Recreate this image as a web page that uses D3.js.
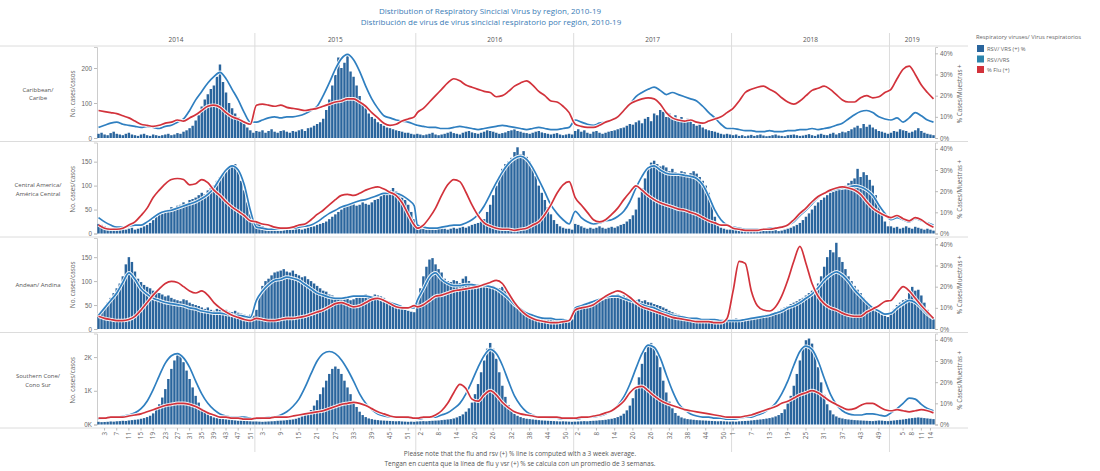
<!DOCTYPE html>
<html>
<head>
<meta charset="utf-8">
<script src="https://cdn.jsdelivr.net/npm/d3@7"></script>
<style>
  body { margin: 0; background: #fff; }
  svg { display: block; font-family: "Open Sans", Lato, "DejaVu Sans", sans-serif; }
</style>
</head>
<body>
<svg id="chart" width="1100" height="471"></svg>
<script>
// ---- time axis -------------------------------------------------------
const years = [2014, 2015, 2016, 2017, 2018, 2019];
const weeksInYear = [52, 53, 52, 52, 52, 15];
const xTickWeeks = [
  [3, 7, 11, 15, 19, 23, 27, 31, 35, 39, 43, 47, 51],
  [3, 9, 15, 21, 27, 33, 39, 45, 51],
  [2, 8, 14, 20, 26, 32, 38, 44, 50],
  [2, 8, 14, 20, 26, 32, 38, 44, 50],
  [1, 7, 13, 19, 25, 31, 37, 43, 49],
  [5, 8, 11, 14]
];

// ---- weekly RSV cases (bars) -------------------------------------------
const caribeCases = [
  12,15,10,8,14,18,12,10,8,12, 15,10,8,6,10,12,8,6,10,8, 6,8,10,12,8,10,14,12,18,22, 28,35,50,65,90,110,125,140,150,175, 210,160,130,100,85,70,60,50,40,30, 22,15,
  20,18,22,15,20,25,18,15,20,22, 18,15,20,18,22,25,20,28,30,35, 40,45,55,80,110,150,180,230,200,215, 235,190,175,150,120,100,85,70,60,55, 45,40,35,30,28,25,22,20,18,15, 15,12,10,
  12,10,8,10,12,15,10,8,10,12, 15,18,14,12,10,15,18,20,16,14, 12,15,18,22,20,18,15,12,14,16, 20,22,25,20,18,15,14,12,15,18, 20,16,14,12,10,12,14,10,8,10, 12,10,
  20,25,18,22,15,12,18,20,15,12, 15,18,20,22,25,28,30,35,40,38, 45,50,42,55,60,48,70,65,80,75, 60,70,55,65,50,60,45,55,48,40, 35,38,30,25,22,20,18,15,12,10, 12,10,
  8,10,6,8,5,7,9,6,8,10, 7,5,6,8,10,7,6,5,8,9, 10,8,6,7,9,11,8,6,10,12, 9,8,12,15,10,14,18,16,20,25, 30,35,28,40,32,38,30,25,20,18, 15,12,
  15,20,18,25,22,20,15,18,22,28,20,15,12,10,8
];
const centralCases = [
  20,18,15,12,10,12,10,8,10,8, 10,12,8,10,12,15,18,22,28,35, 40,42,48,50,55,52,58,60,65,62, 70,72,75,80,85,82,90,95,100,110, 118,125,130,138,142,145,130,110,90,65, 40,25,
  25,20,15,12,10,12,10,8,10,12, 10,8,10,12,10,8,10,12,14,15, 18,20,22,25,30,35,40,45,50,55, 58,60,62,58,60,65,62,60,65,70, 72,78,85,80,90,95,88,80,75,70, 60,45,30,
  15,12,10,8,10,12,8,10,12,10, 8,10,12,10,12,14,12,15,18,20, 22,25,30,45,60,80,100,120,135,145, 150,158,170,180,165,172,160,150,135,120, 100,85,70,55,40,28,20,15,12,10, 10,8,
  20,18,15,12,10,12,10,12,15,12, 10,12,14,12,15,18,20,25,30,38, 50,75,95,115,135,148,152,145,140,142, 138,130,135,128,125,130,128,122,126,130, 125,118,110,100,85,60,35,20,12,10, 8,8,
  10,8,6,5,6,8,5,6,7,5, 6,5,8,6,7,5,6,8,10,12, 15,18,22,28,35,42,50,58,65,70, 75,80,85,88,92,95,98,100,105,110, 115,135,118,128,122,112,100,80,60,40, 25,15,
  15,12,14,10,12,15,12,10,14,12,10,8,10,8,6
];
const andeanCases = [
  25,35,45,55,65,75,85,95,110,135, 150,140,120,105,98,92,88,85,80,78, 75,72,68,70,65,62,60,58,62,60, 55,52,50,48,45,42,45,40,38,42, 40,38,40,36,35,38,34,32,30,28, 30,28,
  40,70,90,100,105,112,118,120,122,125, 120,118,122,115,112,108,110,104,100,95, 90,85,80,78,72,70,65,62,60,62, 64,60,62,66,68,70,72,70,68,72, 70,68,65,60,55,50,48,45,42,40, 38,36,35,
  60,85,110,130,145,148,135,125,118,105, 100,98,102,100,96,105,110,100,95,92, 94,90,96,92,88,90,86,85,88,80, 72,65,55,48,42,38,35,32,30,28, 26,25,24,22,23,22,20,22,21,20, 18,20,
  45,48,50,52,55,58,56,60,62,60, 64,66,65,70,72,68,70,66,64,62, 60,62,58,60,56,55,52,50,48,45, 42,38,35,32,30,28,26,25,24,22, 22,20,21,20,19,20,18,19,18,17, 18,16,
  20,22,18,20,22,20,24,22,25,26, 28,30,28,32,35,38,42,45,48,52, 55,58,62,65,70,75,80,85,95,110, 130,150,165,160,180,150,140,125,110,100, 90,82,75,65,58,50,45,40,35,30, 28,25,
  35,42,50,55,60,62,75,88,80,82,70,55,40,30,20
];
const southernCases = [
  80,70,75,80,90,85,95,100,110,105, 120,130,140,150,170,190,220,260,330,450, 600,800,1050,1350,1650,1900,2100,2050,1850,1600, 1350,1100,850,650,480,380,300,250,210,190, 170,160,150,140,130,120,110,115,105,100, 95,90,
  90,85,80,85,90,95,100,110,115,120, 130,140,150,170,200,240,290,350,430,560, 720,900,1100,1300,1500,1650,1720,1650,1500,1300, 1100,900,700,520,380,280,220,180,160,140, 130,120,115,110,105,100,95,100,90,85, 80,85,80,
  90,95,100,95,105,110,115,120,130,140, 150,160,180,210,250,300,380,480,650,900, 1200,1550,1900,2250,2420,2250,1950,1550,1150,820, 580,420,320,260,220,190,170,160,150,140, 130,120,115,110,105,100,95,90,95,90, 85,80,
  85,90,95,100,95,105,110,115,125,130, 140,155,170,190,220,260,320,420,560,780, 1050,1400,1800,2150,2380,2420,2300,2050,1700,1300, 950,680,480,340,260,210,180,160,150,140, 130,125,120,115,110,105,100,95,100,95, 90,85,
  90,85,95,100,105,110,120,130,140,150, 160,175,190,210,240,280,340,450,620,850, 1150,1500,1900,2250,2500,2550,2400,2100,1700,1250, 880,600,420,300,240,200,180,160,150,140, 130,125,120,115,110,105,100,110,120,115, 105,100,
  110,120,130,140,150,165,180,190,200,210,200,190,180,170,160
];

// ---- 3-week averaged positivity (%), one value every other week (wk 1,3,5...) ----
const caribeRsvPct = [
  5,6,7,7.5,6.5,6,5.5,5,5.5,5,4.5,5.5,6,7.5,9,13,18,22,26,29,31,28,23,18,12,7.5,
  7.5,8.5,9.5,10,9.5,10,10,10.5,11.5,13,15,20,26,32.5,37.5,39.5,37,31.5,24.5,18.5,14,10.5,9.5,8.5,8,7.5,6.5,
  6,5.5,5,5,4.5,4.5,5,5.5,5,4.5,4,4.5,5,5.5,6,5.5,5,4.5,4,4.5,5,4.5,4,4,4.5,5,
  8.5,7.5,6.5,6,7,7.5,8.5,10,13,16,19.5,21.5,23,24,22.5,20.5,21.5,20.5,19.5,18.5,17.5,15,12,9.5,6.5,4.5,
  4.5,4,3.5,3.5,3,3,3.5,3,3,3.5,3.5,4,4,4.5,4,4.5,5,6,7,9,11,12.5,13,12,10,9,
  8.5,9.5,7.5,9.5,12,10.5,8.5,7.5
];
const caribeFluPct = [
  13,12.5,12,11.5,10.5,9.5,8,6.5,6,5.5,6,7,7.5,8.5,8,9.5,11,13,15,15.5,14.5,12,10,9,7.5,6.5,
  15.5,16,15.5,15,15.5,14.5,14,13.5,13,13.5,14,15,16,17,17.5,18.5,18.5,17,15,12,9.5,7,6,6.5,8,9,10,
  12,14,17,20,23,26,28,27,25,24,23,22,21.5,19.5,20,22,24.5,26,27,25,22,20,17.5,17,15,12,
  6.5,5.5,5,5,6,7.5,8.5,10,13,16,17.5,18.5,19,18.5,16,12,9.5,8.5,8,8.5,7.5,7,8,9,10,12,
  14,17.5,21.5,23,24,24.5,23,21.5,19,17,16,17.5,20,22.5,23.5,24.5,23,20.5,18,17,17,19,20,19,19.5,21.5,
  23,28,32.5,34,30,25,21.5,18.5
];
const centralRsvPct = [
  7.5,5.5,4,3,3,3.5,4,4,5.5,7.5,9.5,10.5,11,12,13,14,15,16.5,18.5,21.5,26,30,32,30,23,11,
  3,2.5,2,2,2,2.5,2.5,3,3.5,4,5.5,7.5,9.5,11,12.5,13.5,14.5,15.5,16,17,18,19,19,19,18,16,13,
  4,3,2.5,2.5,3,3.5,4,4,5,6.5,9,13,18.5,24,29,33,35.5,36.5,35,31,25.5,19.5,13.5,9.5,6.5,4.5,
  10.5,7.5,5.5,4.5,5,6,6.5,8,10.5,15,21.5,27,31,32,30,28.5,28,28,27.5,27,26,23,17.5,11,6.5,4,
  3,2.5,2,2,2,2,2.5,2.5,3,4,5.5,8.5,11,14,17,19,20,21,21.5,22,22.5,22,20.5,18,13.5,9.5,
  6.5,7.5,6.5,5.5,7,6,5,4
];
const centralFluPct = [
  4,2.5,2,2,2.5,4,5.5,8.5,12,17,20.5,23.5,25.5,26,25.5,23,23.5,25.5,24,20.5,18,15,12.5,10.5,8.5,6,
  5.5,4.5,4,3,2.5,2.5,3,4,4.5,6.5,9,11,13.5,16,18,18.5,18,19,20.5,21.5,22,21,19.5,18,14.5,9,4,
  2.5,4,7.5,12,18,23,25.5,24.5,19.5,13.5,8.5,5,3.5,2.5,2,2,1.5,2,2.5,4,5.5,9,13.5,19,23,24.5,
  17,13.5,10,6.5,5.5,6.5,9,12,16,19.5,22.5,20.5,18,16,14.5,13.5,12.5,11.5,11,10,9,7.5,6,5,4,4,
  2.5,2,1.5,1.5,1.5,2,2,2.5,3,4,6.5,9.5,12,15,17.5,19,20.5,21.5,22,21.5,20.5,18.5,15,12,10,8.5,
  7.5,8.5,7,6,7.5,6.5,4.5,3
];
const andeanRsvPct = [
  6.5,10,13.5,17,22,26.5,23.5,19,16.5,14.5,13.5,12.5,12,11.5,11,10,9.5,8.5,8,7.5,7.5,7,6.5,6.5,6,5.5,
  13.5,18,21,23,23.5,24.5,24,23,21,19,17,16,15,14.5,14.5,15,15.5,15.5,15.5,15,14.5,13.5,12.5,11.5,10.5,10,10,
  13.5,19,24.5,26.5,23.5,21.5,20.5,20.5,21,21,20.5,20.5,20,19,17,14.5,11.5,9.5,7.5,6.5,5.5,5,5,4.5,4.5,4,
  10,11,12,13,14,15,15.5,15.5,14.5,13.5,12.5,11.5,10.5,10,8.5,7.5,6.5,6,5.5,5,5,4.5,4.5,4.5,4,4,
  4,4,4.5,5,5.5,6,6.5,7.5,8.5,10,11,12.5,14.5,16.5,19.5,23,25.5,27,25.5,22.5,18.5,15.5,12.5,10,8.5,7,
  7.5,10,12,13.5,12.5,10,7,5
];
const andeanFluPct = [
  6,5,4.5,4,4,4.5,6,9,12.5,16,19,21.5,22.5,22,20,18,17,18,16,12.5,10,8,6.5,5.5,4.5,4,
  5,4.5,4,4,4.5,5,5,5.5,6,7,8,9,10.5,12,12.5,11.5,10.5,11,12.5,14,14.5,13.5,12,10.5,10,10,11,
  10.5,11.5,13.5,15.5,16,17,18,18.5,19,19.5,20,21,22,23,21.5,17,12.5,9,6.5,5,4,3.5,3,3,3.5,4,
  9,10,10.5,11.5,13.5,15.5,17,18,17,15,12.5,10.5,9.5,8.5,7.5,6.5,5.5,5,4.5,4,3.5,3.5,3.5,3,3,5,
  18,32,31,18,11,9,8.5,10.5,15.5,23,32,39,31,21.5,15.5,12,10,9,7.5,6.5,6,6,8,9.5,11,13,
  13.5,17,20,18,14.5,11,8,5
];
const southernRsvPct = [
  2.5,3,3.5,3.5,4,4.5,5.5,7.5,11,16.5,23,29,32.5,33.5,31.5,27,20.5,14.5,10,7,5,4,3.5,3.5,3.5,3,
  2.5,3,3.5,3.5,4.5,6,8.5,12,17.5,24,30,33.5,34.5,33.5,30.5,26,20.5,14.5,10,7,5,4,3.5,3.5,3.5,3,3,
  2.5,3,3.5,3.5,4.5,5.5,7.5,10,14.5,20.5,27,32.5,35.5,33.5,28,20.5,13.5,9,6,4.5,3.5,3.5,3,3,2.5,2.5,
  2.5,3,3.5,3.5,4,5,6.5,9,13,19,26.5,33.5,37.5,36.5,31.5,23.5,16,10,7,5,4,3.5,3.5,3,3,2.5,
  2.5,3,3.5,3.5,4.5,5.5,7.5,10,14.5,20.5,28,34.5,37,35.5,30,22,14.5,9.5,6.5,5,4.5,4.5,5,5,4.5,4,
  5.5,7.5,10,12.5,12,9.5,7.5,6.5
];
const southernFluPct = [
  3,3,3.5,3.5,3.5,4,4.5,5,6,7,8,9,9.5,10,10,9.5,8.5,7,5.5,4.5,3.5,3.5,3,3,2.5,2.5,
  3,3,3,3.5,3.5,3.5,4,4.5,5,5.5,6,6.5,7.5,8.5,9.5,10,10.5,10,9,7.5,6,5,4,3.5,3.5,3.5,3,
  3,3.5,3.5,4.5,6.5,10,15,19,17,12,11,14,16,14,10.5,8,6,5,4.5,4,3.5,3.5,3.5,3.5,3,3,
  3,3.5,3.5,4,4.5,5.5,6.5,8.5,11,15,17.5,18,16,13.5,11.5,10,9,8,7,6.5,6,5.5,5,4.5,4,3.5,
  3.5,3.5,4,4.5,5.5,6.5,7.5,8.5,10,11,12.5,14,15,16,15,13,11,9.5,8,7,7.5,9,10,10,8.5,7,
  6.5,7,6.5,6,6.5,7,6.5,5.5
];

// ---- panel labels and axes ---------------------------------------------
const regionLabels = [["Caribbean/", "Caribe"], ["Central America/", "América Central"], ["Andean/ Andina"], ["Southern Cone/", "Cono Sur"]];
const caseMax = [260, 190, 190, 2700];
const caseTicks = [[0, 100, 200], [0, 50, 100, 150], [0, 50, 100, 150], [0, 1000, 2000]];
const pctTicks = [0, 10, 20, 30, 40];
const legendLabels = ["RSV/ VRS (+) %", "RSV/VRS", "% Flu (+)"];

const regions = [
  { label: regionLabels[0], cases: caribeCases, rsv: caribeRsvPct, flu: caribeFluPct },
  { label: regionLabels[1], cases: centralCases, rsv: centralRsvPct, flu: centralFluPct },
  { label: regionLabels[2], cases: andeanCases, rsv: andeanRsvPct, flu: andeanFluPct },
  { label: regionLabels[3], cases: southernCases, rsv: southernRsvPct, flu: southernFluPct }
];

// ---- layout ---------------------------------------------------------------
const plotL = 97, plotR = 935;
const panelTop = 46, panelH = 95.5;
const C_BAR = "#2a659d", C_RSV = "#2f7fc0", C_FLU = "#d2323b";
const C_TXT = "#666", C_GRID = "#dcdcdc";

const svg = d3.select("#chart");

const weekKeys = [];
const lineKeys = [];
years.forEach((y, i) => {
  for (let w = 1; w <= weeksInYear[i]; w++) weekKeys.push(y + "-" + w);
  for (let w = 1; w <= weeksInYear[i]; w += 2) lineKeys.push(y + "-" + w);
});

const x = d3.scaleBand().domain(weekKeys).range([plotL, plotR]).paddingInner(0.2).paddingOuter(0.1);
const cx = k => x(k) + x.bandwidth() / 2;
const gap = (x.step() - x.bandwidth()) / 2;
const yearStart = years.map(y => x(y + "-1") - gap);
const yearBounds = yearStart.concat([plotR]);

// title
svg.append("text").attr("x", 490).attr("y", 14).attr("text-anchor", "middle")
  .attr("font-size", 8).attr("fill", "#3b7cb6")
  .text("Distribution of Respiratory Sincicial Virus by region, 2010-19");
svg.append("text").attr("x", 491).attr("y", 25).attr("text-anchor", "middle")
  .attr("font-size", 8).attr("fill", "#3b7cb6")
  .text("Distribución de virus de virus sincicial respiratorio por región, 2010-19");

// year separators
svg.append("g").selectAll("line").data(yearBounds.slice(1, -1)).join("line")
  .attr("x1", d => d).attr("x2", d => d).attr("y1", 33).attr("y2", 452)
  .attr("stroke", C_GRID).attr("stroke-width", 1);

// year headers
svg.append("g").selectAll("text").data(years).join("text")
  .attr("x", (d, i) => (yearBounds[i] + yearBounds[i + 1]) / 2)
  .attr("y", 42).attr("text-anchor", "middle")
  .attr("font-size", 6.5).attr("fill", "#555").text(d => d);

// panel separators
svg.append("g").selectAll("line").data(d3.range(5)).join("line")
  .attr("x1", 0).attr("x2", 968)
  .attr("y1", i => panelTop + i * panelH).attr("y2", i => panelTop + i * panelH)
  .attr("stroke", C_GRID).attr("stroke-width", 1);

regions.forEach((r, ri) => {
  const top = panelTop + ri * panelH;
  const zero = top + 92;
  const yC = d3.scaleLinear().domain([0, caseMax[ri]]).range([zero, top + 1]);
  const yP = d3.scaleLinear().domain([0, 43]).range([zero, top + 1]);
  const g = svg.append("g");

  // region name
  const mid = top + panelH / 2 + 2;
  const lines = r.label;
  g.append("text").attr("text-anchor", "middle")
    .attr("font-size", 6).attr("fill", "#555")
    .selectAll("tspan").data(lines).join("tspan")
    .attr("x", 38)
    .attr("y", (d, i) => mid + (i - (lines.length - 1) / 2) * 8.5)
    .text(d => d);

  // left axis
  const fmtC = ri === 3 ? (v => (v / 1000) + "K") : (v => v);
  const axL = d3.axisLeft(yC).tickValues(caseTicks[ri]).tickSize(3).tickPadding(2).tickFormat(fmtC);
  const gl = g.append("g").attr("transform", `translate(${plotL},0)`).call(axL);
  gl.select(".domain").attr("stroke", "#ccc");
  gl.selectAll(".tick line").attr("stroke", "#bbb");
  gl.selectAll(".tick text").attr("fill", C_TXT).attr("font-size", 6.3).attr("font-family", null);
  g.append("text").attr("transform", `translate(75,${top + panelH / 2}) rotate(-90)`)
    .attr("text-anchor", "middle").attr("font-size", 6.3).attr("fill", C_TXT)
    .text("No. cases/casos");

  // right axis
  const axR = d3.axisRight(yP).tickValues(pctTicks).tickSize(3).tickPadding(2).tickFormat(v => v + "%");
  const gr = g.append("g").attr("transform", `translate(${plotR},0)`).call(axR);
  gr.select(".domain").attr("stroke", "#ccc");
  gr.selectAll(".tick line").attr("stroke", "#bbb");
  gr.selectAll(".tick text").attr("fill", C_TXT).attr("font-size", 6.3).attr("font-family", null);
  g.append("text").attr("transform", `translate(962,${top + panelH / 2}) rotate(-90)`)
    .attr("text-anchor", "middle").attr("font-size", 6.3).attr("fill", C_TXT)
    .text("% Cases/Muestras +");

  // bars
  g.append("g").selectAll("rect").data(r.cases).join("rect")
    .attr("x", (d, i) => x(weekKeys[i]))
    .attr("width", x.bandwidth())
    .attr("y", d => yC(d))
    .attr("height", d => zero - yC(d))
    .attr("fill", C_BAR);

  // positivity lines with white halo
  const line = d3.line().x(d => cx(d.k)).y(d => yP(d.v)).curve(d3.curveMonotoneX);
  [[r.rsv, C_RSV], [r.flu, C_FLU]].forEach(([vals, col]) => {
    const pts = vals.map((v, i) => ({ k: lineKeys[i], v }));
    g.append("path").datum(pts).attr("d", line).attr("fill", "none")
      .attr("stroke", "#fff").attr("stroke-width", 3.6).attr("stroke-linejoin", "round").attr("opacity", 0.9);
    g.append("path").datum(pts).attr("d", line).attr("fill", "none")
      .attr("stroke", col).attr("stroke-width", 1.7).attr("stroke-linejoin", "round");
  });
});

// x axis: epidemiological weeks
const xAxisY = panelTop + 4 * panelH;
const tickData = [];
years.forEach((y, i) => xTickWeeks[i].forEach(w => tickData.push({ k: y + "-" + w, w })));
const gx = svg.append("g");
gx.selectAll("line").data(tickData).join("line")
  .attr("x1", d => cx(d.k)).attr("x2", d => cx(d.k))
  .attr("y1", xAxisY).attr("y2", xAxisY + 2.5).attr("stroke", "#bbb");
gx.selectAll("text").data(tickData).join("text")
  .attr("transform", d => `translate(${cx(d.k) + 2.2},${xAxisY + 4}) rotate(-90)`)
  .attr("text-anchor", "end").attr("font-size", 6.3).attr("fill", C_TXT)
  .text(d => d.w);

// legend
const lg = svg.append("g").attr("transform", "translate(976,0)");
lg.append("text").attr("x", 0).attr("y", 39).attr("font-size", 5.8).attr("fill", C_TXT)
  .text("Respiratory viruses/ Virus respiratorios");
const legendColors = [C_BAR, "#2b84ac", C_FLU];
legendLabels.forEach((t, i) => {
  lg.append("rect").attr("x", 1).attr("y", 45 + i * 10.5).attr("width", 7).attr("height", 7).attr("fill", legendColors[i]);
  lg.append("text").attr("x", 11).attr("y", 51 + i * 10.5).attr("font-size", 5.8).attr("fill", C_TXT).text(t);
});

// footnote
svg.append("text").attr("x", 520).attr("y", 456).attr("text-anchor", "middle")
  .attr("font-size", 6.5).attr("fill", "#555")
  .text("Please note that the flu and rsv (+) % line is computed with a 3 week average.");
svg.append("text").attr("x", 520).attr("y", 466).attr("text-anchor", "middle")
  .attr("font-size", 6.5).attr("fill", "#555")
  .text("Tengan en cuenta que la línea de flu y vsr (+) % se calcula con un promedio de 3 semanas.");
</script>
</body>
</html>
